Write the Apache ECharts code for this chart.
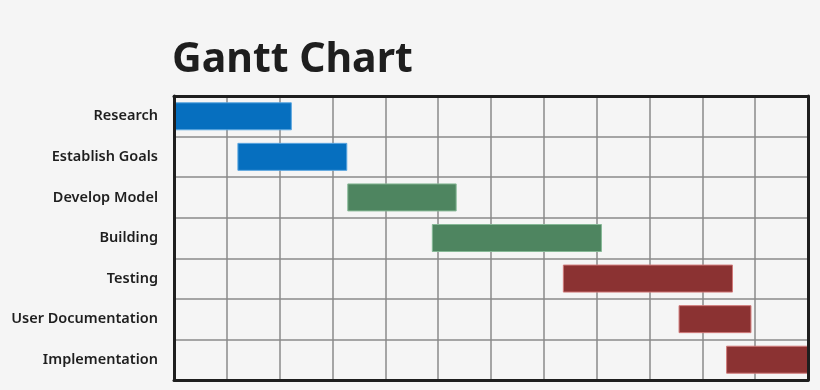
<!DOCTYPE html>
<html>
<head>
<meta charset="utf-8">
<script src="https://cdn.jsdelivr.net/npm/echarts@6/dist/echarts.min.js"></script>
<style>
html,body{margin:0;padding:0;background:#f5f5f5;}
#chart{width:820px;height:390px;}
</style>
</head>
<body>
<div id="chart"></div>
<script>
const tasks = ['Research','Establish Goals','Develop Model','Building','Testing','User Documentation','Implementation'];
const starts = [0, 1.2, 3.28, 4.88, 7.36, 9.55, 10.45];
const ends = [2.23, 3.28, 5.35, 8.1, 10.58, 10.93, 12];
const taskColors = ['#066fbf','#066fbf','#4e8560','#4e8560','#8b3232','#8b3232','#8b3232'];
const edgeColors = ['#5aa6e0','#5aa6e0','#86b896','#86b896','#d07a7a','#d07a7a','#d07a7a'];

const durations = tasks.map((t, i) => +(ends[i] - starts[i]).toFixed(3));

const frameLine = {show: true, onZero: false, lineStyle: {color: '#1e1e1e', width: 3}};
const gridLine = {show: true, lineStyle: {color: '#8a8a8a', width: 1.5}};

const chart = echarts.init(document.getElementById('chart'), null, {renderer: 'canvas'});
chart.setOption({
  backgroundColor: '#f5f5f5',
  animation: false,
  title: {
    text: 'Gantt Chart',
    left: 167,
    top: 35,
    textStyle: {fontFamily: 'Noto Sans', fontWeight: 'bold', fontSize: 41, color: '#1e1e1e'}
  },
  grid: {left: 174, right: 12, top: 96, bottom: 10},
  xAxis: [
    {
      type: 'value', min: 0, max: 12, interval: 1, position: 'bottom', z: 1,
      axisLabel: {show: false}, axisTick: {show: false}, axisLine: {show: false},
      splitLine: gridLine
    },
    {
      type: 'value', min: 0, max: 12, interval: 1, position: 'top', z: 5,
      axisLabel: {show: false}, axisTick: {show: false}, axisLine: frameLine,
      splitLine: {show: false}
    },
    {
      type: 'value', min: 0, max: 12, interval: 1, position: 'bottom', z: 5,
      axisLabel: {show: false}, axisTick: {show: false}, axisLine: frameLine,
      splitLine: {show: false}
    }
  ],
  yAxis: [
    {
      type: 'category', data: tasks, inverse: true, position: 'left', z: 5,
      axisTick: {show: false}, axisLine: frameLine,
      axisLabel: {margin: 16, padding: [4, 0, 0, 0], fontFamily: 'Noto Sans', fontSize: 14.5, fontWeight: 600, color: '#1e1e1e'},
      splitLine: gridLine
    },
    {
      type: 'category', data: tasks, inverse: true, position: 'right', z: 5,
      axisTick: {show: false}, axisLine: frameLine,
      axisLabel: {show: false}, splitLine: {show: false}
    }
  ],
  series: [
    {
      type: 'bar', stack: 'g', data: starts, barWidth: 28,
      itemStyle: {color: 'transparent'}, silent: true
    },
    {
      type: 'bar', stack: 'g', barWidth: 28,
      data: durations.map((d, i) => ({
        value: d,
        itemStyle: {color: taskColors[i], borderColor: edgeColors[i], borderWidth: 1}
      }))
    }
  ]
});
</script>
</body>
</html>
